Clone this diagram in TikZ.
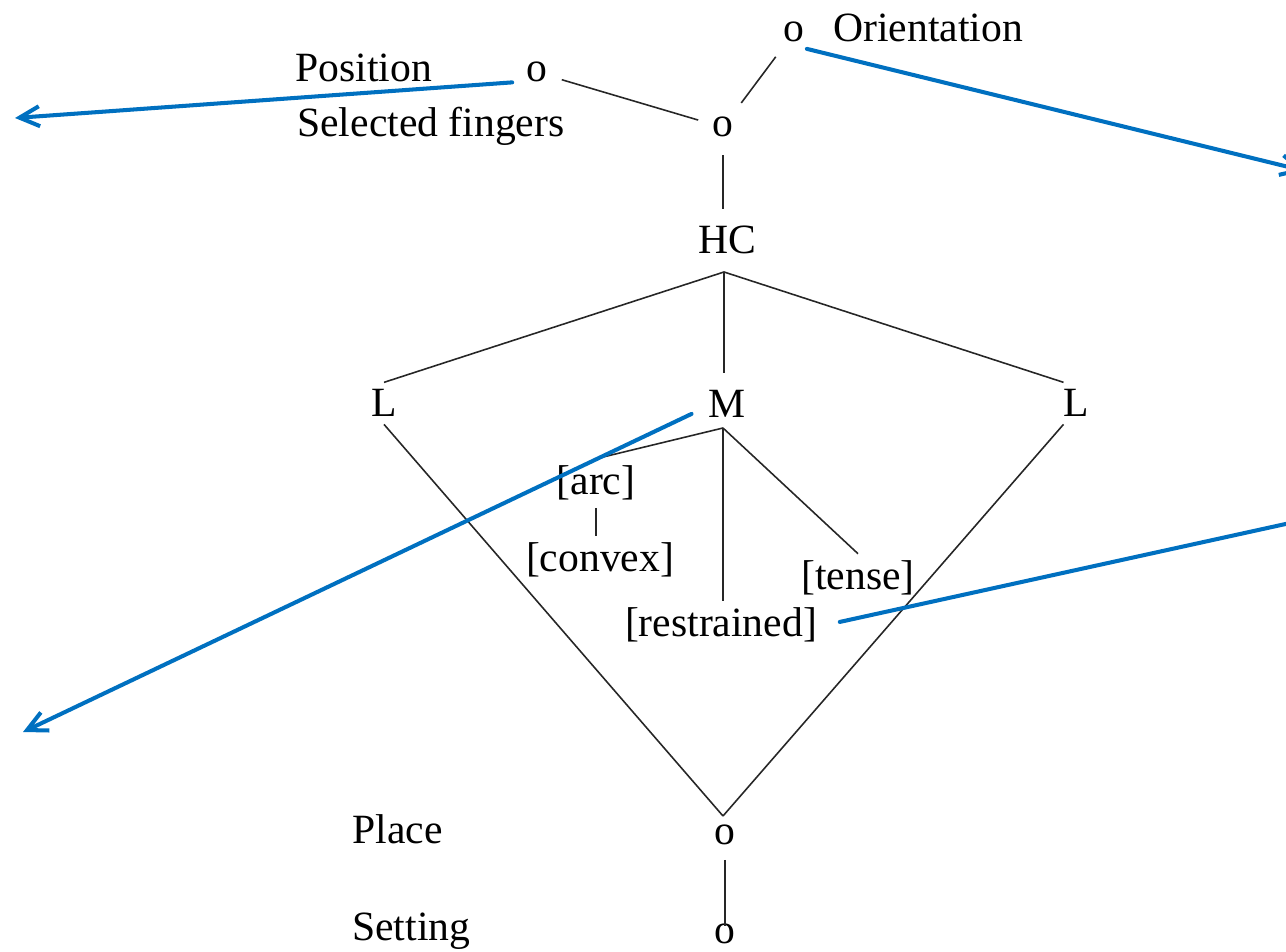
\documentclass[tikz,border=0pt]{standalone}
\usepackage{fontspec}
\setmainfont{Liberation Serif}
\usepackage{tikz}
\usetikzlibrary{positioning,arrows.meta}
\definecolor{CalloutBlue}{RGB}{0,112,192}

\begin{document}
\begin{tikzpicture}[x=0.02cm, y=-0.02cm,
                % Node styles
                every node/.style={font=\fontsize{23.7}{28}\selectfont},
                featnode/.style={inner sep=4pt, anchor=base},
                onode/.style={inner sep=8pt, anchor=base},
                tierlabel/.style={inner sep=0pt, anchor=base west},
                % Edge styles
                branch/.style={draw=black!85, line width=0.9pt},
                callout/.style={-{Straight Barb[length=0.4cm,width=0.4cm]}, draw=CalloutBlue, line width=2.3pt, line cap=round}
            ]
                \useasboundingbox (0,0) rectangle (1286,952);

                % --- NODES ---
                % Top: orientation / selected fingers
                \node[onode] (otop) at (794,42) {o};
                \node[onode] (osf) at (537,82) {o};
                \node[onode] (ohand) at (723,137) {o};
                \node[tierlabel] (orient) at (833,42) {Orientation};
                \node[tierlabel] (posit) at (295,82) {Position};
                \node[tierlabel] (selfing) at (297,137) {Selected fingers};

                % HC and its dependents
                \node[featnode] (hc) at (727,254) {HC};
                \node[featnode] (lleft) at (384,417) {L};
                \node[featnode] (m) at (727,418) {M};
                \node[featnode] (lright) at (1076,417) {L};

                % Features under M
                \node[featnode] (arc) at (596,495) {[arc]};
                \node[featnode] (convex) at (600,572) {[convex]};
                \node[featnode] (tense) at (858,590) {[tense]};
                \node[featnode] (restr) at (721,637) {[restrained]};

                % Bottom: place / setting
                \node[onode] (oplace) at (725,845) {o};
                \node[onode] (osetting) at (725,944) {o};
                \node[tierlabel] (place) at (352,844) {Place};
                \node[tierlabel] (setting) at (352,941) {Setting};

                % Branching points
                \coordinate (hcfoot) at (724,272);
                \coordinate (mfoot) at (723,428);
                \coordinate (vee) at (723,816);

                % Free ends of the callouts
                \coordinate (posend) at (15,118);
                \coordinate (orientend) at (1305,171);
                \coordinate (mend) at (23,732);
                \coordinate (restrend) at (1322,516);

                % --- BRANCHES ---
                \draw[branch] (osf) -- (ohand);
                \draw[branch] (ohand) -- (otop);
                \draw[branch, shorten <=2pt, shorten >=6pt] (ohand) -- (ohand |- hc.north);

                \draw[branch] (hcfoot) -- (lleft.north);
                \draw[branch, shorten >=6pt] (hcfoot) -- (hcfoot |- m.north);
                \draw[branch] (hcfoot) -- ([xshift=-0.25cm]lright.north);

                \draw[branch] (lleft.south) -- (vee);
                \draw[branch] ([xshift=-0.25cm]lright.south) -- (vee);

                \draw[branch] (mfoot) -- (arc.north);
                \draw[branch] (arc.south) -- (arc.south |- convex.north);
                \draw[branch] (mfoot) -- (mfoot |- restr.north);
                \draw[branch] (mfoot) -- (tense.north);

                \draw[branch, shorten >=-9pt] (oplace) -- (osetting);

                % --- CALLOUTS ---
                \draw[callout] ([yshift=-0.2cm]osf.west) -- (posend);
                \draw[callout, shorten <=-7pt] ([yshift=0.1cm]otop.south east) -- (orientend);
                \draw[callout, shorten <=6pt] ([yshift=-0.1cm]m.west) -- (mend);
                \draw[callout, shorten <=9pt] (restr.east) -- (restrend);

            \end{tikzpicture}
\end{document}
